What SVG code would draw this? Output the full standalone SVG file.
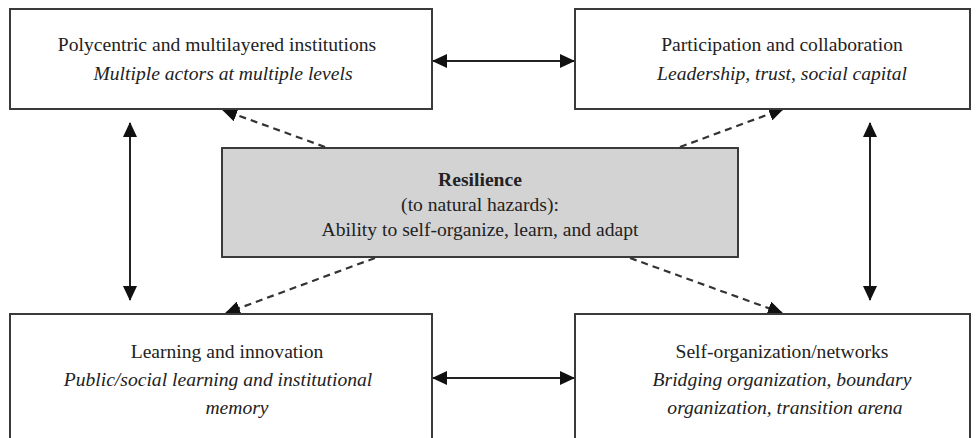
<svg xmlns="http://www.w3.org/2000/svg" width="980" height="438" viewBox="0 0 980 438">
<defs>
<style>
.box{fill:#fff;stroke:#3a3a3a;stroke-width:2}
.core{fill:#d3d3d3;stroke:#3a3a3a;stroke-width:2}
text{font-family:"Liberation Serif","Times New Roman",serif;font-size:19.6px;fill:#222;text-anchor:middle}
.it{font-style:italic}
.b{font-weight:bold}
.solid{stroke:#222;stroke-width:2;fill:none;marker-start:url(#ah);marker-end:url(#ah)}
.dash{stroke:#333;stroke-width:2.2;fill:none;stroke-dasharray:7 5;marker-end:url(#ah)}
</style>
<marker id="ah" markerUnits="userSpaceOnUse" markerWidth="16" markerHeight="14" refX="14" refY="7" orient="auto-start-reverse" viewBox="0 0 16 14">
<path d="M0,0 L15,7 L0,14 Z" fill="#111"/>
</marker>
</defs>
<rect width="980" height="438" fill="#fff"/>
<g id="connectors">
<line class="solid" x1="433" y1="61" x2="574" y2="61"/>
<line class="solid" x1="433" y1="378" x2="574" y2="378"/>
<line class="solid" x1="130" y1="123" x2="130" y2="300"/>
<line class="solid" x1="870" y1="123" x2="870" y2="300"/>
<line class="dash" x1="325" y1="147" x2="223" y2="110"/>
<line class="dash" x1="680" y1="147" x2="783" y2="109"/>
<line class="dash" x1="375" y1="258" x2="226" y2="313"/>
<line class="dash" x1="630" y1="258" x2="782" y2="313"/>
</g>
<g id="polycentric">
<rect class="box" x="10" y="9" width="422" height="100"/>
<text x="217" y="51">Polycentric and multilayered institutions</text>
<text class="it" x="223" y="80">Multiple actors at multiple levels</text>
</g>
<g id="participation">
<rect class="box" x="575" y="9" width="395" height="100"/>
<text x="782" y="51">Participation and collaboration</text>
<text class="it" x="782" y="80">Leadership, trust, social capital</text>
</g>
<g id="resilience">
<rect class="core" x="222" y="148" width="516" height="109"/>
<text class="b" x="480" y="186">Resilience</text>
<text x="480" y="211">(to natural hazards):</text>
<text x="480" y="236">Ability to self-organize, learn, and adapt</text>
</g>
<g id="learning">
<rect class="box" x="10" y="314" width="422" height="140"/>
<text x="227" y="358">Learning and innovation</text>
<text class="it" x="218" y="386">Public/social learning and institutional</text>
<text class="it" x="237" y="414">memory</text>
</g>
<g id="selforg">
<rect class="box" x="575" y="314" width="395" height="140"/>
<text x="782" y="358">Self-organization/networks</text>
<text class="it" x="782" y="386">Bridging organization, boundary</text>
<text class="it" x="785" y="414">organization, transition arena</text>
</g>
</svg>
